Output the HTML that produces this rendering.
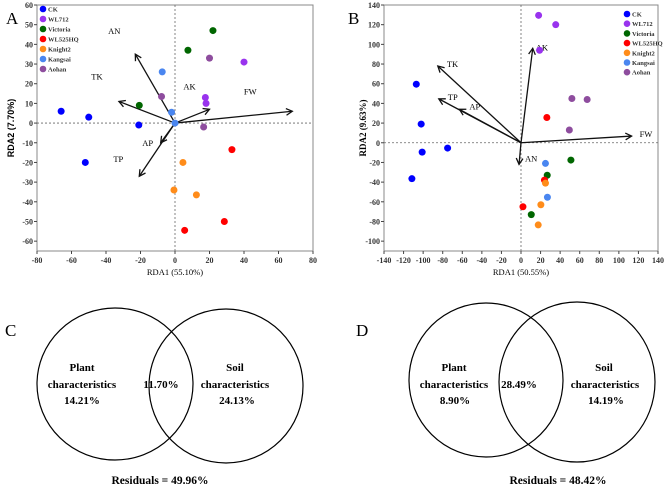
<!DOCTYPE html>
<html><head><meta charset="utf-8"><style>
body{margin:0;background:#fff}
svg{display:block;font-family:"Liberation Serif",serif}
</style></head><body>
<svg id="s" width="669" height="486" viewBox="0 0 669 486">
<text x="6" y="24" font-size="17">A</text>
<text x="348" y="24" font-size="17">B</text>
<text x="5" y="336" font-size="17">C</text>
<text x="356" y="336" font-size="17">D</text>
<g id="ga"></g>
<g id="gb"></g>
<g fill="none" stroke="#000" stroke-width="1.2">
<ellipse cx="115" cy="384" rx="78" ry="76"/>
<ellipse cx="226" cy="386" rx="77" ry="77"/>
</g>
<g font-weight="bold" font-size="11" text-anchor="middle">
<text x="82" y="371">Plant</text>
<text x="82" y="388">characteristics</text>
<text x="82" y="404">14.21%</text>
<text x="161" y="388">11.70%</text>
<text x="235" y="371">Soil</text>
<text x="235" y="388">characteristics</text>
<text x="237" y="404">24.13%</text>
<text x="160" y="484" font-size="11.5">Residuals = 49.96%</text>
</g>
<g fill="none" stroke="#000" stroke-width="1.2">
<ellipse cx="486" cy="380" rx="77" ry="77"/>
<ellipse cx="577" cy="382" rx="78" ry="80"/>
</g>
<g font-weight="bold" font-size="11" text-anchor="middle">
<text x="454" y="371">Plant</text>
<text x="454" y="388">characteristics</text>
<text x="455" y="404">8.90%</text>
<text x="519" y="388">28.49%</text>
<text x="604" y="371">Soil</text>
<text x="605" y="388">characteristics</text>
<text x="606" y="404">14.19%</text>
<text x="558" y="484" font-size="11.5">Residuals = 48.42%</text>
</g>
</svg>
<script>
const groups=["CK","WL712","Victoria","WL525HQ","Knight2","Kangsai","Aohan"];
const colors=["#0000ff","#9933ee","#006600","#ff0000","#ff8c1a","#4a86f0","#8e4d9e"];
const aX=[[-66,-50,-52,-21],[40,17.6,18],[22,7.5,-20.7],[33,28.6,5.6],[4.6,-0.6,12.4],[-7.4,-2,0],[20,-7.8,16.6]];
const aY=[[6,3,-20,-1],[31,13,10],[47,37,9],[-13.5,-50,-54.5],[-20,-34,-36.5],[26,5.5,0],[33,13.5,-2]];
const aVars=["AN","TK","AK","FW","AP","TP"];
const aVX=[-23,-32.5,20,68,-8.3,-20.7];
const aVY=[35,11,7,6,-10,-27];
const bX=[[-107,-102,-101,-75,-111.5],[18,35.5,19],[51,26.8,10.5],[26.4,24,2],[25,20.3,17.6],[25,27],[52,67.6,49.4]];
const bY=[[59.5,19,-9.5,-5.4,-36.5],[129.5,120,94],[-17.6,-33,-73],[25.7,-38,-65],[-41,-63,-83.5],[-21,-55.4],[45,44,13]];
const bVars=["AK","TK","TP","AP","FW","AN"];
const bVX=[12,-85,-84,-63,113,-2];
const bVY=[96,78,44.6,34,6.8,-22];
const aTicksX=[-80,-60,-40,-20,0,20,40,60,80];
const aTicksY=[60,50,40,30,20,10,0,-10,-20,-30,-40,-50,-60];
const bTicksX=[-140,-120,-100,-80,-60,-40,-20,0,20,40,60,80,100,120,140];
const bTicksY=[140,120,100,80,60,40,20,0,-20,-40,-60,-80,-100];
const NS="http://www.w3.org/2000/svg";
function mk(p,t,a,txt){const e=document.createElementNS(NS,t);for(const k in a)e.setAttribute(k,a[k]);if(txt!==undefined)e.textContent=txt;p.appendChild(e);return e;}
function plot(g,cfg){
 const sx=v=>cfg.x0+(v-cfg.xmin)/(cfg.xmax-cfg.xmin)*(cfg.x1-cfg.x0);
 const sy=v=>cfg.y0+(cfg.ymax-v)/(cfg.ymax-cfg.ymin)*(cfg.y1-cfg.y0);
 let r=mk(g,'rect',{x:cfg.x0,y:cfg.y0,width:cfg.x1-cfg.x0,height:cfg.y1-cfg.y0,fill:'none',stroke:'#888','stroke-width':1});
 
 
 let l=mk(g,'line',{x1:sx(0),x2:sx(0),y1:cfg.y0,y2:cfg.y1,stroke:'#666','stroke-dasharray':'2,2','stroke-width':0.8});
 
 
 l=mk(g,'line',{x1:cfg.x0,x2:cfg.x1,y1:sy(0),y2:sy(0),stroke:'#666','stroke-dasharray':'2,2','stroke-width':0.8});
 
 
 cfg.tx.forEach(v=>{mk(g,'line',{x1:sx(v),x2:sx(v),y1:cfg.y1,y2:cfg.y1+3,stroke:'#444'});
  const t=mk(g,'text',{x:sx(v),y:cfg.y1+12,'font-size':8,'text-anchor':'middle','font-weight':'bold',fill:'#333'},v);
  
  });
 cfg.ty.forEach(v=>{mk(g,'line',{x1:cfg.x0-3,x2:cfg.x0,y1:sy(v),y2:sy(v),stroke:'#444'});
  const t=mk(g,'text',{x:cfg.x0-4,y:sy(v)+3,'font-size':8,'text-anchor':'end','font-weight':'bold',fill:'#333'},v);
  
  });
 let t=mk(g,'text',{x:(cfg.x0+cfg.x1)/2,y:cfg.y1+24,'font-size':8.5,'text-anchor':'middle'},cfg.xt);
 
 
 t=mk(g,'text',{x:cfg.ytx,y:(cfg.y0+cfg.y1)/2,'font-size':9,'text-anchor':'middle','font-weight':'bold',transform:`rotate(-90 ${cfg.ytx} ${(cfg.y0+cfg.y1)/2})`,'font-family':cfg.ytf},cfg.yt);
 
 
 const ox=sx(0),oy=sy(0);
 cfg.vars.forEach((n,i)=>{const x=sx(cfg.vx[i]),y=sy(cfg.vy[i]);
  const ln=mk(g,'line',{x1:ox,y1:oy,x2:x,y2:y,stroke:'#111','stroke-width':1.3});
  
  
  const a=Math.atan2(y-oy,x-ox),h=7;
  mk(g,'polyline',{points:`${x-h*Math.cos(a-0.5)},${y-h*Math.sin(a-0.5)} ${x},${y} ${x-h*Math.cos(a+0.5)},${y-h*Math.sin(a+0.5)}`,fill:'none',stroke:'#111','stroke-width':1.3});
  const lb=mk(g,'text',{x:x+cfg.lo[i][0],y:y+cfg.lo[i][1],'font-size':8.5,'text-anchor':cfg.la},n);
  
  });
 groups.forEach((gname,i)=>{cfg.px[i].forEach((v,j)=>{
  const c=mk(g,'circle',{cx:sx(v),cy:sy(cfg.py[i][j]),r:3.5,fill:colors[i]});
  
  });
  const ly=cfg.ly+i*cfg.ld;
  const lc=mk(g,'circle',{cx:cfg.lx,cy:ly,r:3.3,fill:colors[i]});
  
  
  const lt=mk(g,'text',{x:cfg.lx+5,y:ly+2.5,'font-size':6.5,'font-weight':'bold',fill:'#333'},gname);
  
  });
}
plot(document.getElementById('ga'),{x0:37,x1:313,y0:5,y1:251,xmin:-80,xmax:80,ymin:-65,ymax:60,tx:aTicksX,ty:aTicksY,
 xt:"RDA1 (55.10%)",yt:"RDA2 (7.70%)",ytx:14,ytf:"Liberation Sans, sans-serif",vars:aVars,vx:aVX,vy:aVY,la:'middle',
 lo:[[-21,-20],[-22,-22],[-20,-20],[-42,-17],[-13,3],[-21,-14]],px:aX,py:aY,lx:43,ly:9,ld:10});
plot(document.getElementById('gb'),{x0:384,x1:658,y0:5,y1:251,xmin:-140,xmax:140,ymin:-110,ymax:140,tx:bTicksX,ty:bTicksY,
 xt:"RDA1 (50.55%)",yt:"RDA2 (9.63%)",ytx:366,ytf:"Liberation Serif, serif",vars:bVars,vx:bVX,vy:bVY,la:'start',
 lo:[[3,2],[9,1],[9,1],[10,0],[8,1],[6,-3]],px:bX,py:bY,lx:627,ly:14,ld:9.7});
</script>
</body></html>
